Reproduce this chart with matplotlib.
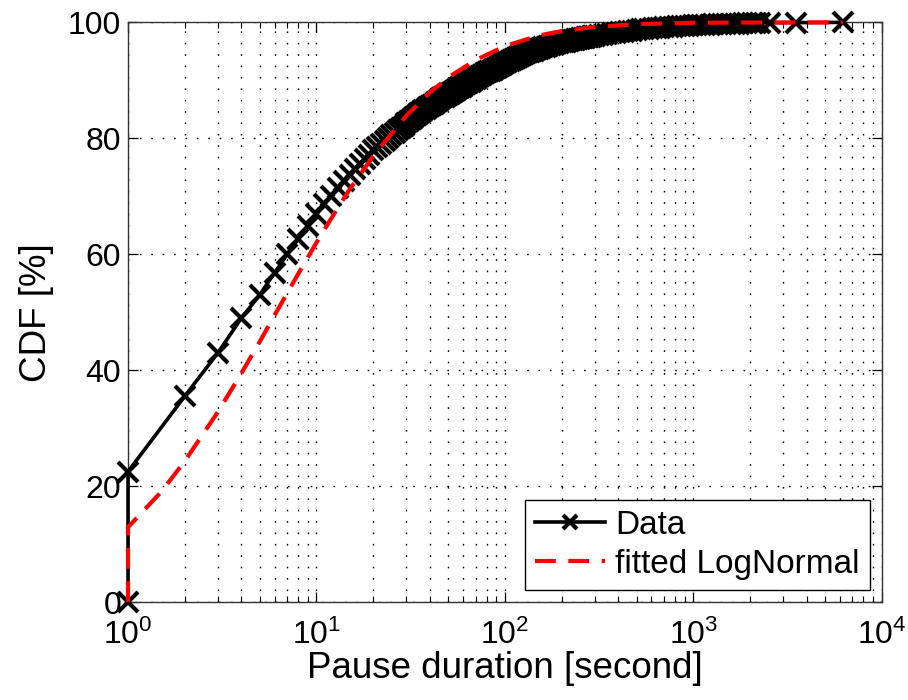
import matplotlib
matplotlib.use("Agg")
import matplotlib.pyplot as plt
from matplotlib.ticker import LogLocator, FixedLocator, NullLocator

plt.rcParams['font.family'] = ['Liberation Sans', 'DejaVu Sans']
plt.rcParams['mathtext.fontset'] = 'custom'
plt.rcParams['mathtext.rm'] = 'Liberation Sans'
plt.rcParams['mathtext.it'] = 'Liberation Sans:italic'
plt.rcParams['mathtext.bf'] = 'Liberation Sans:bold'

data_x = [1, 1, 2, 3, 4, 5, 6, 7, 8, 9, 10, 11, 12, 13, 14, 15, 16, 17, 18, 19,
          20, 21, 22, 23, 24, 25, 26, 27, 28, 29, 30, 31, 32, 33, 34, 35, 36, 37, 38, 39,
          40, 41, 42, 43, 44, 45, 46, 47, 48, 49, 50, 51, 52, 53, 54, 55, 56, 57, 58, 59, 60,
          62, 64, 66, 68, 70, 72, 74, 76, 78, 80, 82, 84, 86, 88, 90, 92, 94, 96, 98, 100,
          103, 106, 109, 112, 115, 118, 121, 124, 127, 130, 133, 136, 139, 142, 145, 148, 151,
          155, 160, 165, 170, 175, 180, 185, 190, 195, 200, 205, 210, 215, 220, 225, 230, 235,
          240, 245, 250, 255, 260, 265, 270, 275, 280, 285, 290, 295, 300,
          315, 330, 350, 370, 390, 410, 430, 450, 475, 500, 525, 550, 580, 610, 640, 670, 700,
          740, 780, 820, 860, 900, 950, 1000, 1050, 1100, 1160, 1220, 1280, 1350, 1420, 1500,
          1580, 1660, 1750, 1840, 1940, 2040, 2150, 2250, 2540, 3510, 6220]
data_y = [0, 22.5, 35.5, 43.0, 49.0, 53.0, 56.8, 60.0, 62.6, 64.9, 66.9, 68.6, 70.1, 71.4, 72.6, 73.7, 74.7, 75.6, 76.4, 77.2,
          77.9, 78.5, 79.1, 79.6, 80.1, 80.6, 81.0, 81.4, 81.8, 82.2, 82.6, 82.95, 83.3, 83.65, 84.0, 84.3, 84.6, 84.85, 85.1, 85.35,
          85.6, 85.8, 86.0, 86.25, 86.5, 86.7, 86.9, 87.05, 87.2, 87.35, 87.5, 87.65, 87.85, 88.0, 88.15, 88.3, 88.5, 88.65, 88.8, 88.9, 89.05,
          89.3, 89.55, 89.8, 90.1, 90.3, 90.5, 90.75, 91.0, 91.2, 91.4, 91.55, 91.7, 91.85, 92.0, 92.15, 92.3, 92.5, 92.7, 92.85, 93.0,
          93.2, 93.35, 93.55, 93.7, 93.9, 94.1, 94.25, 94.4, 94.55, 94.7, 94.85, 94.95, 95.05, 95.15, 95.3, 95.4, 95.45,
          95.55, 95.7, 95.8, 95.95, 96.05, 96.2, 96.3, 96.4, 96.5, 96.55, 96.6, 96.7, 96.8, 96.85, 96.9, 96.95, 97.0,
          97.1, 97.15, 97.2, 97.25, 97.3, 97.35, 97.4, 97.45, 97.5, 97.55, 97.6, 97.65, 97.7,
          97.8, 97.9, 98.0, 98.1, 98.2, 98.3, 98.4, 98.5, 98.6, 98.7, 98.8, 98.85, 98.9, 99.0, 99.05, 99.1, 99.15,
          99.2, 99.25, 99.3, 99.35, 99.4, 99.45, 99.5, 99.52, 99.55, 99.6, 99.62, 99.65, 99.68, 99.7, 99.73,
          99.75, 99.78, 99.8, 99.82, 99.85, 99.87, 99.9, 99.92, 99.95, 99.97, 100.0]

# Fitted LogNormal curve
fit_x = [1, 1, 1.5, 2, 3, 4, 5, 6, 7, 8, 10, 12, 15, 20, 30, 40, 50, 70, 100, 150, 200, 300, 500, 1000, 2000, 6220]
fit_y = [0, 12.9, 19.0, 24.3, 32.8, 39.5, 44.9, 49.5, 53.3, 56.6, 62.0, 66.2, 71.2, 76.9, 83.9, 87.9, 90.5, 93.5,
         95.9, 97.7, 98.5, 99.2, 99.7, 99.93, 99.98, 100.0]

y_ticks = [0, 20, 40, 60, 80, 100]
labels = ["Data", "fitted LogNormal"]

fig = plt.figure(figsize=(9.08, 7.0), dpi=100)
ax = fig.add_axes([0.141, 0.14, 0.830, 0.828])

ax.set_xscale('log')
ax.set_xlim(1, 1e4)
ax.set_ylim(0, 100)

ax.plot(data_x, data_y, color='black', lw=2.6, marker='x', markersize=14,
        markeredgewidth=3.0, clip_on=False, zorder=3, label=labels[0])
ax.plot(fit_x, fit_y, color='red', lw=3.0, linestyle=(0, (5, 3)),
        clip_on=False, zorder=4, label=labels[1])

ax.yaxis.set_major_locator(FixedLocator(y_ticks))
ax.yaxis.set_minor_locator(NullLocator())
ax.xaxis.set_major_locator(LogLocator(base=10, numticks=10))
ax.xaxis.set_minor_locator(LogLocator(base=10, subs=range(2, 10), numticks=20))

grid_style = dict(color='black', linestyle=(0, (1.2, 7)), linewidth=1.0)
ax.grid(True, which='major', axis='both', **grid_style)
ax.grid(True, which='minor', axis='x', **grid_style)

ax.tick_params(which='both', direction='in', top=True, right=True, labelsize=23, color='black')
ax.tick_params(which='major', length=7, width=0.9)
ax.tick_params(which='minor', length=4, width=0.8)
ax.tick_params(axis='x', which='major', pad=13)
ax.tick_params(axis='y', which='major', pad=5)
for s in ax.spines.values():
    s.set_linewidth(1.0)
    s.set_color('#333333')

ax.set_xlabel("Pause duration [second]", fontsize=26.5, labelpad=0)
ax.set_ylabel("CDF [%]", fontsize=26.5, labelpad=10)

leg = ax.legend(loc='lower right', fontsize=24, numpoints=1, fancybox=False,
                framealpha=1, edgecolor='black', borderaxespad=0.36,
                handlelength=2.1, handletextpad=0.3, labelspacing=0.25, borderpad=0.3)
leg.get_frame().set_linewidth(1.0)
for h in leg.legend_handles:
    if hasattr(h, 'set_markersize'):
        h.set_markersize(10)

fig.savefig("out.png", dpi=100)
